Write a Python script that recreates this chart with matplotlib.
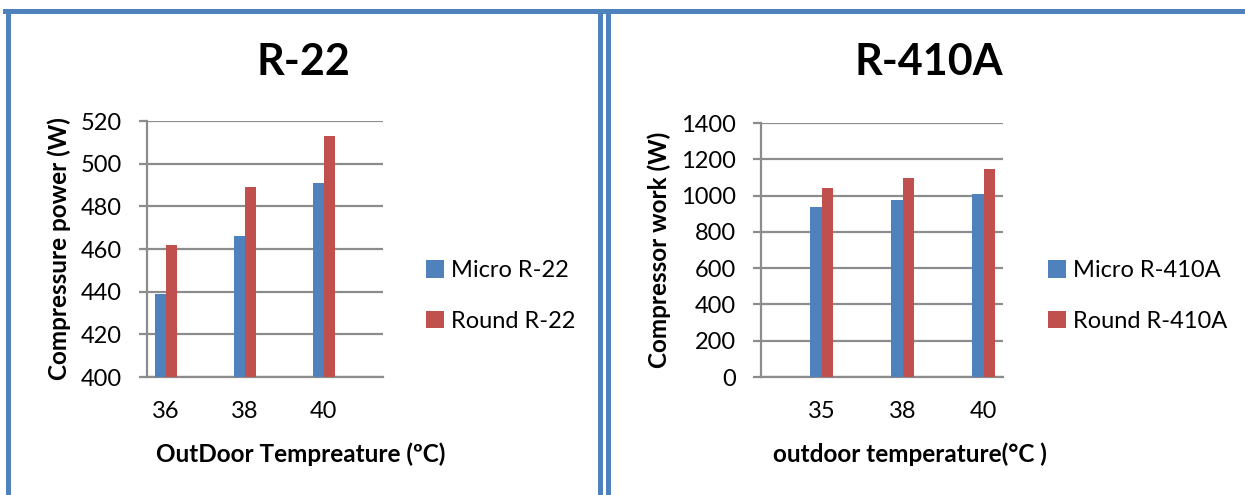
import matplotlib
matplotlib.use('Agg')
import matplotlib.pyplot as plt
import numpy as np
from matplotlib.lines import Line2D

plt.rcParams['font.family'] = ['Lato', 'DejaVu Sans']

# ======= data =======
r22_temps = ['36', '38', '40']
r22_micro = [439, 466, 491]
r22_round = [462, 489, 513]

r410_temps = ['35', '38', '40']
r410_micro = [937, 976, 1007]
r410_round = [1043, 1099, 1144]

blue = '#4F81BD'
red = '#C0504D'
grid_c = '#8C8C8C'

W, H = 1245, 495
fig = plt.figure(figsize=(W / 100, H / 100), dpi=100)


def px_axes(x0, y0, x1, y1):
    # pixel box (from top-left) -> figure fraction
    return fig.add_axes([x0 / W, 1 - y1 / H, (x1 - x0) / W, (y1 - y0) / H])


def style(ax):
    for s in ['top', 'right']:
        ax.spines[s].set_visible(False)
    for s in ['left', 'bottom']:
        ax.spines[s].set_color(grid_c)
        ax.spines[s].set_linewidth(1.6)
    ax.yaxis.grid(True, color=grid_c, linewidth=1.6)
    ax.set_axisbelow(True)
    ax.tick_params(axis='y', length=6, width=1.6, color=grid_c, labelsize=17, pad=12)
    ax.tick_params(axis='x', length=0, labelsize=17, pad=17)


w = 0.14

# ======= R-22 =======
ax1 = px_axes(147, 121, 383, 377)
x = np.arange(len(r22_temps))
ax1.bar(x - w / 2, r22_micro, w, color=blue, label='Micro R-22', zorder=3)
ax1.bar(x + w / 2, r22_round, w, color=red, label='Round R-22', zorder=3)
ax1.set_xticks(x)
ax1.set_xticklabels(r22_temps)
ax1.set_xlim(-0.24, 2.75)
ax1.set_ylim(400, 520)
ax1.set_yticks(np.arange(400, 521, 20))
style(ax1)
ax1.set_ylabel('Compressure power (W)', fontsize=17.5, fontweight='bold', labelpad=7)
ax1.set_xlabel('OutDoor Tempreature (ºC)', fontsize=17.5, fontweight='bold', labelpad=15)
ax1.xaxis.label.set_x(0.653)
fig.text(303 / W, 1 - 62 / H, 'R-22', fontsize=31, fontweight='bold', ha='center', va='center')
ax1.legend(loc='center left', bbox_to_anchor=(405 / W, 1 - 296 / H), bbox_transform=fig.transFigure,
           frameon=False, fontsize=17, handlelength=0.75, handleheight=0.75, handletextpad=0.3,
           labelspacing=1.25)

# ======= R-410A =======
ax2 = px_axes(761, 123, 1003, 377)
x = np.arange(len(r410_temps))
ax2.bar(x - w / 2, r410_micro, w, color=blue, label='Micro R-410A', zorder=3)
ax2.bar(x + w / 2, r410_round, w, color=red, label='Round R-410A', zorder=3)
ax2.set_xticks(x)
ax2.set_xticklabels(r410_temps)
ax2.set_xlim(-0.75, 2.24)
ax2.set_ylim(0, 1400)
ax2.set_yticks(np.arange(0, 1401, 200))
style(ax2)
ax2.set_ylabel('Compressor work (W)', fontsize=17.5, fontweight='bold', labelpad=7)
ax2.set_xlabel('outdoor temperature(°C )', fontsize=17.5, fontweight='bold', labelpad=15)
ax2.xaxis.label.set_x(0.616)
fig.text(929 / W, 1 - 62 / H, 'R-410A', fontsize=31, fontweight='bold', ha='center', va='center')
ax2.legend(loc='center left', bbox_to_anchor=(1027 / W, 1 - 296 / H), bbox_transform=fig.transFigure,
           frameon=False, fontsize=17, handlelength=0.75, handleheight=0.75, handletextpad=0.3,
           labelspacing=1.25)

# ======= frames =======
lw = 3.6
fig.add_artist(Line2D([7.5 / W, 7.5 / W], [0, 1 - 10.5 / H], color=blue, lw=lw))
fig.add_artist(Line2D([5 / W, 602 / W], [1 - 10.5 / H, 1 - 10.5 / H], color=blue, lw=lw))
fig.add_artist(Line2D([599.5 / W, 599.5 / W], [0, 1 - 10.5 / H], color=blue, lw=lw))
fig.add_artist(Line2D([607.5 / W, 607.5 / W], [0, 1 - 10.5 / H], color=blue, lw=lw))
fig.add_artist(Line2D([605 / W, 1], [1 - 10.5 / H, 1 - 10.5 / H], color=blue, lw=lw))

fig.savefig('out.png', dpi=100)
